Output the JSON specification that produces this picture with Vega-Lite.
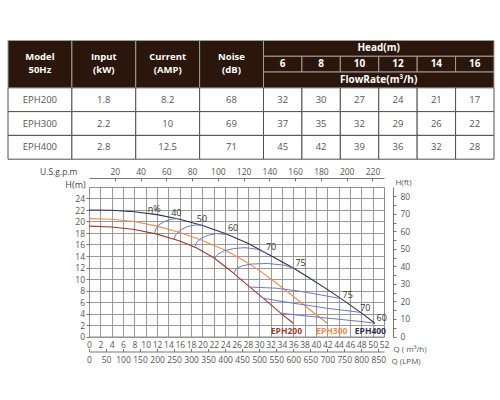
{
  "$schema": "https://vega.github.io/schema/vega-lite/v6.json",
  "padding": {"left": 7, "top": 40, "right": 0, "bottom": 0},
  "width": 295,
  "height": 149.5,
  "config": {"font": "Open Sans", "view": {"stroke": "#8f8f8f", "strokeWidth": 1}},
  "resolve": {"scale": {"x": "independent", "y": "independent"}},
  "datasets": {
    "cells": [
      {"c0": 0, "c1": 1, "r0": 0, "r1": 3, "t": "Model\n50Hz", "part": "head"},
      {"c0": 1, "c1": 2, "r0": 0, "r1": 3, "t": "Input\n(kW)", "part": "head"},
      {"c0": 2, "c1": 3, "r0": 0, "r1": 3, "t": "Current\n(AMP)", "part": "head"},
      {"c0": 3, "c1": 4, "r0": 0, "r1": 3, "t": "Noise\n(dB)", "part": "head"},
      {"c0": 4, "c1": 10, "r0": 0, "r1": 1, "t": "Head(m)", "part": "head"},
      {"c0": 4, "c1": 5, "r0": 1, "r1": 2, "t": "6", "part": "head"},
      {"c0": 5, "c1": 6, "r0": 1, "r1": 2, "t": "8", "part": "head"},
      {"c0": 6, "c1": 7, "r0": 1, "r1": 2, "t": "10", "part": "head"},
      {"c0": 7, "c1": 8, "r0": 1, "r1": 2, "t": "12", "part": "head"},
      {"c0": 8, "c1": 9, "r0": 1, "r1": 2, "t": "14", "part": "head"},
      {"c0": 9, "c1": 10, "r0": 1, "r1": 2, "t": "16", "part": "head"},
      {"c0": 4, "c1": 10, "r0": 2, "r1": 3, "t": "FlowRate(m³/h)", "part": "head"},
      {"c0": 0, "c1": 1, "r0": 3, "r1": 4, "t": "EPH200", "part": "body"},
      {"c0": 1, "c1": 2, "r0": 3, "r1": 4, "t": "1.8", "part": "body"},
      {"c0": 2, "c1": 3, "r0": 3, "r1": 4, "t": "8.2", "part": "body"},
      {"c0": 3, "c1": 4, "r0": 3, "r1": 4, "t": "68", "part": "body"},
      {"c0": 4, "c1": 5, "r0": 3, "r1": 4, "t": "32", "part": "body"},
      {"c0": 5, "c1": 6, "r0": 3, "r1": 4, "t": "30", "part": "body"},
      {"c0": 6, "c1": 7, "r0": 3, "r1": 4, "t": "27", "part": "body"},
      {"c0": 7, "c1": 8, "r0": 3, "r1": 4, "t": "24", "part": "body"},
      {"c0": 8, "c1": 9, "r0": 3, "r1": 4, "t": "21", "part": "body"},
      {"c0": 9, "c1": 10, "r0": 3, "r1": 4, "t": "17", "part": "body"},
      {"c0": 0, "c1": 1, "r0": 4, "r1": 5, "t": "EPH300", "part": "body"},
      {"c0": 1, "c1": 2, "r0": 4, "r1": 5, "t": "2.2", "part": "body"},
      {"c0": 2, "c1": 3, "r0": 4, "r1": 5, "t": "10", "part": "body"},
      {"c0": 3, "c1": 4, "r0": 4, "r1": 5, "t": "69", "part": "body"},
      {"c0": 4, "c1": 5, "r0": 4, "r1": 5, "t": "37", "part": "body"},
      {"c0": 5, "c1": 6, "r0": 4, "r1": 5, "t": "35", "part": "body"},
      {"c0": 6, "c1": 7, "r0": 4, "r1": 5, "t": "32", "part": "body"},
      {"c0": 7, "c1": 8, "r0": 4, "r1": 5, "t": "29", "part": "body"},
      {"c0": 8, "c1": 9, "r0": 4, "r1": 5, "t": "26", "part": "body"},
      {"c0": 9, "c1": 10, "r0": 4, "r1": 5, "t": "22", "part": "body"},
      {"c0": 0, "c1": 1, "r0": 5, "r1": 6, "t": "EPH400", "part": "body"},
      {"c0": 1, "c1": 2, "r0": 5, "r1": 6, "t": "2.8", "part": "body"},
      {"c0": 2, "c1": 3, "r0": 5, "r1": 6, "t": "12.5", "part": "body"},
      {"c0": 3, "c1": 4, "r0": 5, "r1": 6, "t": "71", "part": "body"},
      {"c0": 4, "c1": 5, "r0": 5, "r1": 6, "t": "45", "part": "body"},
      {"c0": 5, "c1": 6, "r0": 5, "r1": 6, "t": "42", "part": "body"},
      {"c0": 6, "c1": 7, "r0": 5, "r1": 6, "t": "39", "part": "body"},
      {"c0": 7, "c1": 8, "r0": 5, "r1": 6, "t": "36", "part": "body"},
      {"c0": 8, "c1": 9, "r0": 5, "r1": 6, "t": "32", "part": "body"},
      {"c0": 9, "c1": 10, "r0": 5, "r1": 6, "t": "28", "part": "body"}
    ],
    "perf": [
      {"model": "EPH400", "q": 0, "h": 22.0}, {"model": "EPH400", "q": 4, "h": 21.95}, {"model": "EPH400", "q": 8, "h": 21.7},
      {"model": "EPH400", "q": 12, "h": 21.2}, {"model": "EPH400", "q": 16, "h": 20.4}, {"model": "EPH400", "q": 20, "h": 19.3},
      {"model": "EPH400", "q": 24, "h": 17.9}, {"model": "EPH400", "q": 28, "h": 16.2}, {"model": "EPH400", "q": 32, "h": 14.1},
      {"model": "EPH400", "q": 36, "h": 11.9}, {"model": "EPH400", "q": 39, "h": 10.1}, {"model": "EPH400", "q": 42, "h": 8.2},
      {"model": "EPH400", "q": 45, "h": 6.2}, {"model": "EPH400", "q": 48, "h": 4.1}, {"model": "EPH400", "q": 50.4, "h": 2.3},
      {"model": "EPH300", "q": 0, "h": 20.5}, {"model": "EPH300", "q": 4, "h": 20.4}, {"model": "EPH300", "q": 8, "h": 20.0},
      {"model": "EPH300", "q": 12, "h": 19.2}, {"model": "EPH300", "q": 16, "h": 18.1}, {"model": "EPH300", "q": 20, "h": 16.7},
      {"model": "EPH300", "q": 24, "h": 15.0}, {"model": "EPH300", "q": 27, "h": 13.4}, {"model": "EPH300", "q": 30, "h": 11.5},
      {"model": "EPH300", "q": 33, "h": 9.3}, {"model": "EPH300", "q": 36, "h": 7.0}, {"model": "EPH300", "q": 39, "h": 4.6},
      {"model": "EPH300", "q": 42, "h": 2.3},
      {"model": "EPH200", "q": 0, "h": 19.2}, {"model": "EPH200", "q": 4, "h": 19.05}, {"model": "EPH200", "q": 8, "h": 18.6},
      {"model": "EPH200", "q": 12, "h": 17.8}, {"model": "EPH200", "q": 16, "h": 16.6}, {"model": "EPH200", "q": 19, "h": 15.4},
      {"model": "EPH200", "q": 22, "h": 13.7}, {"model": "EPH200", "q": 25, "h": 11.4}, {"model": "EPH200", "q": 28, "h": 8.9},
      {"model": "EPH200", "q": 31, "h": 6.4}, {"model": "EPH200", "q": 34, "h": 3.9}, {"model": "EPH200", "q": 36, "h": 2.3}
    ],
    "eff": [
      {"eff": "40", "q": 11.5, "h": 17.9}, {"eff": "40", "q": 11.8, "h": 18.7}, {"eff": "40", "q": 12.3, "h": 19.4},
      {"eff": "40", "q": 13.3, "h": 20.0}, {"eff": "40", "q": 14.5, "h": 20.4}, {"eff": "40", "q": 15.6, "h": 20.5},
      {"eff": "50", "q": 14.9, "h": 16.9}, {"eff": "50", "q": 15.3, "h": 17.7}, {"eff": "50", "q": 16.1, "h": 18.5},
      {"eff": "50", "q": 17.3, "h": 19.1}, {"eff": "50", "q": 18.7, "h": 19.4}, {"eff": "50", "q": 20.0, "h": 19.35},
      {"eff": "60", "q": 18.6, "h": 15.5}, {"eff": "60", "q": 19.0, "h": 16.4}, {"eff": "60", "q": 19.8, "h": 17.1},
      {"eff": "60", "q": 21.0, "h": 17.6}, {"eff": "60", "q": 22.5, "h": 17.9}, {"eff": "60", "q": 24.3, "h": 17.75},
      {"eff": "70", "q": 22.1, "h": 13.5}, {"eff": "70", "q": 22.7, "h": 14.3}, {"eff": "70", "q": 23.8, "h": 14.9},
      {"eff": "70", "q": 25.5, "h": 15.3}, {"eff": "70", "q": 27.5, "h": 15.45}, {"eff": "70", "q": 29.5, "h": 15.2},
      {"eff": "70", "q": 31.5, "h": 14.4},
      {"eff": "75u", "q": 25.5, "h": 11.0}, {"eff": "75u", "q": 26.0, "h": 11.8}, {"eff": "75u", "q": 27.0, "h": 12.3},
      {"eff": "75u", "q": 28.6, "h": 12.6}, {"eff": "75u", "q": 31.5, "h": 12.7}, {"eff": "75u", "q": 34.4, "h": 12.4},
      {"eff": "75u", "q": 36.2, "h": 11.8},
      {"eff": "75l", "q": 28.4, "h": 8.6}, {"eff": "75l", "q": 33, "h": 8.4}, {"eff": "75l", "q": 37, "h": 7.9},
      {"eff": "75l", "q": 41, "h": 7.2}, {"eff": "75l", "q": 44.4, "h": 6.6},
      {"eff": "70l", "q": 30.7, "h": 6.65}, {"eff": "70l", "q": 34, "h": 6.1}, {"eff": "70l", "q": 38, "h": 5.5},
      {"eff": "70l", "q": 42, "h": 4.9}, {"eff": "70l", "q": 45, "h": 4.55}, {"eff": "70l", "q": 47.8, "h": 4.2},
      {"eff": "60l", "q": 33.8, "h": 4.05}, {"eff": "60l", "q": 37, "h": 3.7}, {"eff": "60l", "q": 41, "h": 3.3},
      {"eff": "60l", "q": 45, "h": 2.9}, {"eff": "60l", "q": 48, "h": 2.6}, {"eff": "60l", "q": 50.4, "h": 2.3}
    ],
    "efflab": [
      {"label": "η%", "q": 11.5, "h": 22.25}, {"label": "40", "q": 15.4, "h": 21.5}, {"label": "50", "q": 19.9, "h": 20.4},
      {"label": "60", "q": 25.4, "h": 18.8}, {"label": "70", "q": 32.1, "h": 15.6}, {"label": "75", "q": 37.3, "h": 12.7},
      {"label": "75", "q": 45.6, "h": 7.3}, {"label": "70", "q": 48.7, "h": 5.0}, {"label": "60", "q": 51.6, "h": 3.3}
    ],
    "modlab": [
      {"model": "EPH200", "q": 34.8, "h": 0.95}, {"model": "EPH300", "q": 42.8, "h": 0.95}, {"model": "EPH400", "q": 49.6, "h": 0.95}
    ]
  },
  "layer": [
    {
      "data": {"name": "cells"},
      "mark": {"type": "rect", "strokeWidth": 1},
      "encoding": {
        "x": {"field": "c0", "type": "quantitative", "scale": {"domain": [0, 4, 10], "range": [-81, 174.5, 405], "nice": false}, "axis": null},
        "x2": {"field": "c1"},
        "y": {"field": "r0", "type": "quantitative", "scale": {"domain": [0, 3, 6], "range": [-146.5, -99.2, -27.8], "nice": false}, "axis": null},
        "y2": {"field": "r1"},
        "fill": {"field": "part", "type": "nominal", "scale": {"domain": ["head", "body"], "range": ["#2b160c", "#ffffff"]}, "legend": null},
        "stroke": {"field": "part", "type": "nominal", "scale": {"domain": ["head", "body"], "range": ["#a39c98", "#505050"]}, "legend": null}
      }
    },
    {
      "data": {"name": "cells"},
      "transform": [{"filter": "datum.part === 'head' && datum.c0 < 4"}],
      "mark": {"type": "text", "lineBreak": "\n", "fontSize": 9.5, "fontWeight": "bold", "color": "#ffffff", "baseline": "middle", "align": "center", "lineHeight": 13.2, "dx": 31.9, "dy": 16.8},
      "encoding": {
        "x": {"field": "c0", "type": "quantitative", "scale": {"domain": [0, 4, 10], "range": [-81, 174.5, 405], "nice": false}, "axis": null},
        "y": {"field": "r0", "type": "quantitative", "scale": {"domain": [0, 3, 6], "range": [-146.5, -99.2, -27.8], "nice": false}, "axis": null},
        "text": {"field": "t"}
      }
    },
    {
      "data": {"name": "cells"},
      "transform": [{"filter": "datum.part === 'head' && datum.c0 >= 4 && datum.c1 - datum.c0 === 1"}],
      "mark": {"type": "text", "fontSize": 10, "fontWeight": "bold", "color": "#ffffff", "baseline": "middle", "align": "center", "dx": 19.2, "dy": 7.9},
      "encoding": {
        "x": {"field": "c0", "type": "quantitative", "scale": {"domain": [0, 4, 10], "range": [-81, 174.5, 405], "nice": false}, "axis": null},
        "y": {"field": "r0", "type": "quantitative", "scale": {"domain": [0, 3, 6], "range": [-146.5, -99.2, -27.8], "nice": false}, "axis": null},
        "text": {"field": "t"}
      }
    },
    {
      "data": {"name": "cells"},
      "transform": [{"filter": "datum.part === 'head' && datum.c1 - datum.c0 === 6"}],
      "mark": {"type": "text", "fontSize": 10, "fontWeight": "bold", "color": "#ffffff", "baseline": "middle", "align": "center", "dx": 115.2, "dy": 7.9},
      "encoding": {
        "x": {"field": "c0", "type": "quantitative", "scale": {"domain": [0, 4, 10], "range": [-81, 174.5, 405], "nice": false}, "axis": null},
        "y": {"field": "r0", "type": "quantitative", "scale": {"domain": [0, 3, 6], "range": [-146.5, -99.2, -27.8], "nice": false}, "axis": null},
        "text": {"field": "t"}
      }
    },
    {
      "data": {"name": "cells"},
      "transform": [{"filter": "datum.part === 'body' && datum.c0 < 4"}],
      "mark": {"type": "text", "fontSize": 9.5, "color": "#555555", "baseline": "middle", "align": "center", "dx": 31.9, "dy": 11.9},
      "encoding": {
        "x": {"field": "c0", "type": "quantitative", "scale": {"domain": [0, 4, 10], "range": [-81, 174.5, 405], "nice": false}, "axis": null},
        "y": {"field": "r0", "type": "quantitative", "scale": {"domain": [0, 3, 6], "range": [-146.5, -99.2, -27.8], "nice": false}, "axis": null},
        "text": {"field": "t"}
      }
    },
    {
      "data": {"name": "cells"},
      "transform": [{"filter": "datum.part === 'body' && datum.c0 >= 4"}],
      "mark": {"type": "text", "fontSize": 9.5, "color": "#555555", "baseline": "middle", "align": "center", "dx": 19.2, "dy": 11.9},
      "encoding": {
        "x": {"field": "c0", "type": "quantitative", "scale": {"domain": [0, 4, 10], "range": [-81, 174.5, 405], "nice": false}, "axis": null},
        "y": {"field": "r0", "type": "quantitative", "scale": {"domain": [0, 3, 6], "range": [-146.5, -99.2, -27.8], "nice": false}, "axis": null},
        "text": {"field": "t"}
      }
    },
    {
      "data": {"name": "perf"},
      "mark": {"type": "line", "strokeWidth": 1.1},
      "encoding": {
        "x": {
          "field": "q", "type": "quantitative",
          "scale": {"domain": [0, 52], "nice": false, "zero": false},
          "axis": {
            "values": [0, 2, 4, 6, 8, 10, 12, 14, 16, 18, 20, 22, 24, 26, 28, 30, 32, 34, 36, 38, 40, 42, 44, 46, 48, 50, 52],
            "grid": true, "gridColor": "#8f8f8f", "gridWidth": 0.9, "domain": false, "ticks": false,
            "labelPadding": 4, "labelFontSize": 8.5, "labelColor": "#555555", "labelFlush": false, "labelOverlap": false,
            "title": "Q ( m³/h)", "titleX": 304, "titleY": 12.5, "titleAlign": "left", "titleBaseline": "middle",
            "titleFontSize": 8, "titleFontWeight": "normal", "titleColor": "#555555"
          }
        },
        "y": {
          "field": "h", "type": "quantitative",
          "scale": {"domain": [0, 26], "nice": false, "zero": false},
          "axis": {
            "values": [0, 2, 4, 6, 8, 10, 12, 14, 16, 18, 20, 22, 24],
            "grid": true, "gridColor": "#8f8f8f", "gridWidth": 0.9, "domain": false,
            "tickSize": 3, "tickColor": "#777777", "labelPadding": 1.5, "labelFontSize": 8.5, "labelColor": "#555555",
            "labelFlush": false, "labelOverlap": false,
            "title": "H(m)", "titleAngle": 0, "titleX": -14, "titleY": -3, "titleAlign": "center", "titleBaseline": "middle",
            "titleFontSize": 9, "titleFontWeight": "normal", "titleColor": "#444444"
          }
        },
        "color": {"field": "model", "type": "nominal", "scale": {"domain": ["EPH200", "EPH300", "EPH400"], "range": ["#9a3d30", "#f08c50", "#2f3150"]}, "legend": null}
      }
    },
    {
      "data": {"name": "eff"},
      "mark": {"type": "line", "color": "#6f78c6", "strokeWidth": 1},
      "encoding": {
        "x": {"field": "q", "type": "quantitative", "scale": {"domain": [0, 52], "nice": false, "zero": false}, "axis": null},
        "y": {"field": "h", "type": "quantitative", "scale": {"domain": [0, 26], "nice": false, "zero": false}, "axis": null},
        "detail": {"field": "eff", "type": "nominal"}
      }
    },
    {
      "data": {"name": "efflab"},
      "mark": {"type": "text", "fontSize": 9, "color": "#333333", "baseline": "middle"},
      "encoding": {
        "x": {"field": "q", "type": "quantitative", "scale": {"domain": [0, 52], "nice": false, "zero": false}, "axis": null},
        "y": {"field": "h", "type": "quantitative", "scale": {"domain": [0, 26], "nice": false, "zero": false}, "axis": null},
        "text": {"field": "label"}
      }
    },
    {
      "data": {"name": "modlab"},
      "mark": {"type": "text", "fontSize": 8.5, "fontWeight": "bold", "baseline": "middle"},
      "encoding": {
        "x": {"field": "q", "type": "quantitative", "scale": {"domain": [0, 52], "nice": false, "zero": false}, "axis": null},
        "y": {"field": "h", "type": "quantitative", "scale": {"domain": [0, 26], "nice": false, "zero": false}, "axis": null},
        "text": {"field": "model"},
        "color": {"field": "model", "type": "nominal", "scale": {"domain": ["EPH200", "EPH300", "EPH400"], "range": ["#9a3d30", "#f08c50", "#2f3150"]}, "legend": null}
      }
    },
    {
      "data": {"values": [{"lpm": 0}]},
      "mark": {"type": "point", "opacity": 0},
      "encoding": {
        "x": {
          "field": "lpm", "type": "quantitative",
          "scale": {"domain": [0, 866.7], "nice": false, "zero": false},
          "axis": {
            "orient": "bottom", "offset": 15,
            "values": [0, 50, 100, 150, 200, 250, 300, 350, 400, 450, 500, 550, 600, 650, 700, 750, 800, 850],
            "grid": false, "domain": true, "domainColor": "#777777", "tickSize": -3, "tickColor": "#777777",
            "labelPadding": 6.5, "labelFontSize": 8.5, "labelColor": "#555555", "labelFlush": false, "labelOverlap": false,
            "title": "Q (LPM)", "titleX": 302, "titleY": 10, "titleAlign": "left", "titleBaseline": "middle",
            "titleFontSize": 8, "titleFontWeight": "normal", "titleColor": "#555555"
          }
        }
      }
    },
    {
      "data": {"values": [{"gpm": 0}]},
      "mark": {"type": "point", "opacity": 0},
      "encoding": {
        "x": {
          "field": "gpm", "type": "quantitative",
          "scale": {"domain": [0, 228.95], "nice": false, "zero": false},
          "axis": {
            "orient": "top", "offset": 9,
            "values": [20, 40, 60, 80, 100, 120, 140, 160, 180, 200, 220],
            "grid": false, "domain": true, "domainColor": "#777777", "tickSize": -3, "tickColor": "#777777",
            "labelPadding": 5, "labelFontSize": 8.5, "labelColor": "#555555", "labelFlush": false, "labelOverlap": false,
            "title": "U.S.g.p.m", "titleX": -12, "titleY": -6.5, "titleAlign": "right", "titleBaseline": "middle", "titleAngle": 0,
            "titleFontSize": 8.5, "titleFontWeight": "normal", "titleColor": "#444444"
          }
        }
      }
    },
    {
      "data": {"values": [{"ft": 0}]},
      "mark": {"type": "point", "opacity": 0},
      "encoding": {
        "y": {
          "field": "ft", "type": "quantitative",
          "scale": {"domain": [0, 85.3], "nice": false, "zero": false},
          "axis": {
            "orient": "right", "offset": 9,
            "values": [0, 5, 10, 15, 20, 25, 30, 35, 40, 45, 50, 55, 60, 65, 70, 75, 80],
            "labelExpr": "datum.value % 10 === 0 ? datum.label : ''",
            "grid": false, "domain": true, "domainColor": "#777777", "tickSize": 3, "tickColor": "#777777",
            "labelPadding": 4, "labelFontSize": 8.5, "labelColor": "#555555", "labelFlush": false, "labelOverlap": false,
            "title": "H(ft)", "titleAngle": 0, "titleX": 10, "titleY": -5, "titleAlign": "center", "titleBaseline": "middle",
            "titleFontSize": 8, "titleFontWeight": "normal", "titleColor": "#555555"
          }
        }
      }
    }
  ]
}
